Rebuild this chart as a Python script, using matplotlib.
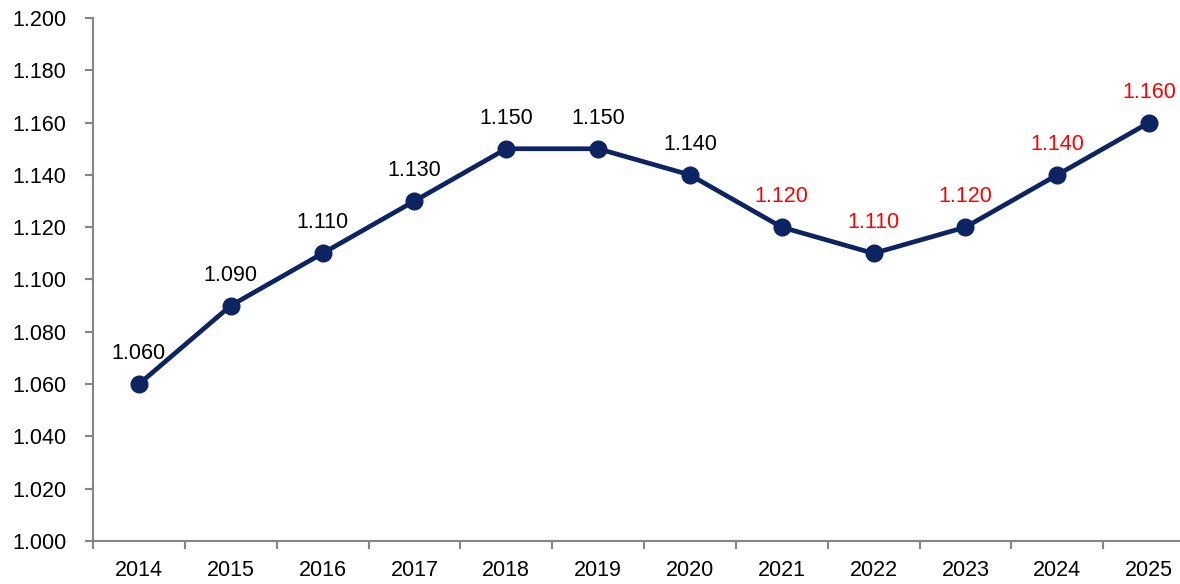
#!/usr/bin/python3

# Line chart of yearly values, projected years labelled in red

import matplotlib.pyplot as plt
from matplotlib.ticker import FuncFormatter, MultipleLocator
import numpy as np

years = [2014, 2015, 2016, 2017, 2018, 2019, 2020, 2021, 2022, 2023, 2024, 2025]
values = [1060, 1090, 1110, 1130, 1150, 1150, 1140, 1120, 1110, 1120, 1140, 1160]
projected = [False, False, False, False, False, False, False, True, True, True, True, True]


def fmt(v, pos=None):
    return f"{v:,.0f}".replace(",", ".")


def plot_chart(outFile="out.png"):
    plt.rcParams['font.family'] = ['Liberation Sans', 'DejaVu Sans']
    fig = plt.figure(figsize=(11.8, 5.84), dpi=100)
    ax = fig.add_axes([93 / 1180, 1 - 541 / 584, 1102 / 1180, 523 / 584])

    x = np.arange(len(years))
    ax.plot(x, values, color="#0d2463", linewidth=3.4, marker="o", markersize=12, zorder=3, clip_on=False)

    #Data labels above each point
    for xi, v, p in zip(x, values, projected):
        ax.annotate(fmt(v), (xi, v), xytext=(0, 22), textcoords="offset points",
                    ha="center", va="center", fontsize=15.5, color="red" if p else "black")

    ax.set_xlim(-0.5, len(years) - 0.5)
    ax.set_ylim(1000, 1200)
    ax.yaxis.set_major_locator(MultipleLocator(20))
    ax.yaxis.set_major_formatter(FuncFormatter(fmt))

    #Category labels in the middle, ticks between categories
    ax.set_xticks(x)
    ax.set_xticklabels([str(y) for y in years])
    ax.set_xticks(np.arange(-0.5, len(years) + 0.5, 1), minor=True)
    ax.tick_params(axis="x", which="major", length=0, pad=14, labelsize=15.5)
    ax.tick_params(axis="x", which="minor", length=6, width=1.5, color="#868686")
    ax.tick_params(axis="y", length=6, width=1.5, color="#868686", pad=13, labelsize=15.5)

    for side in ["top", "right"]:
        ax.spines[side].set_visible(False)
    for side in ["left", "bottom"]:
        ax.spines[side].set_color("#868686")
        ax.spines[side].set_linewidth(1.5)

    fig.savefig(outFile, dpi=100)


if __name__ == "__main__":
    plot_chart()
